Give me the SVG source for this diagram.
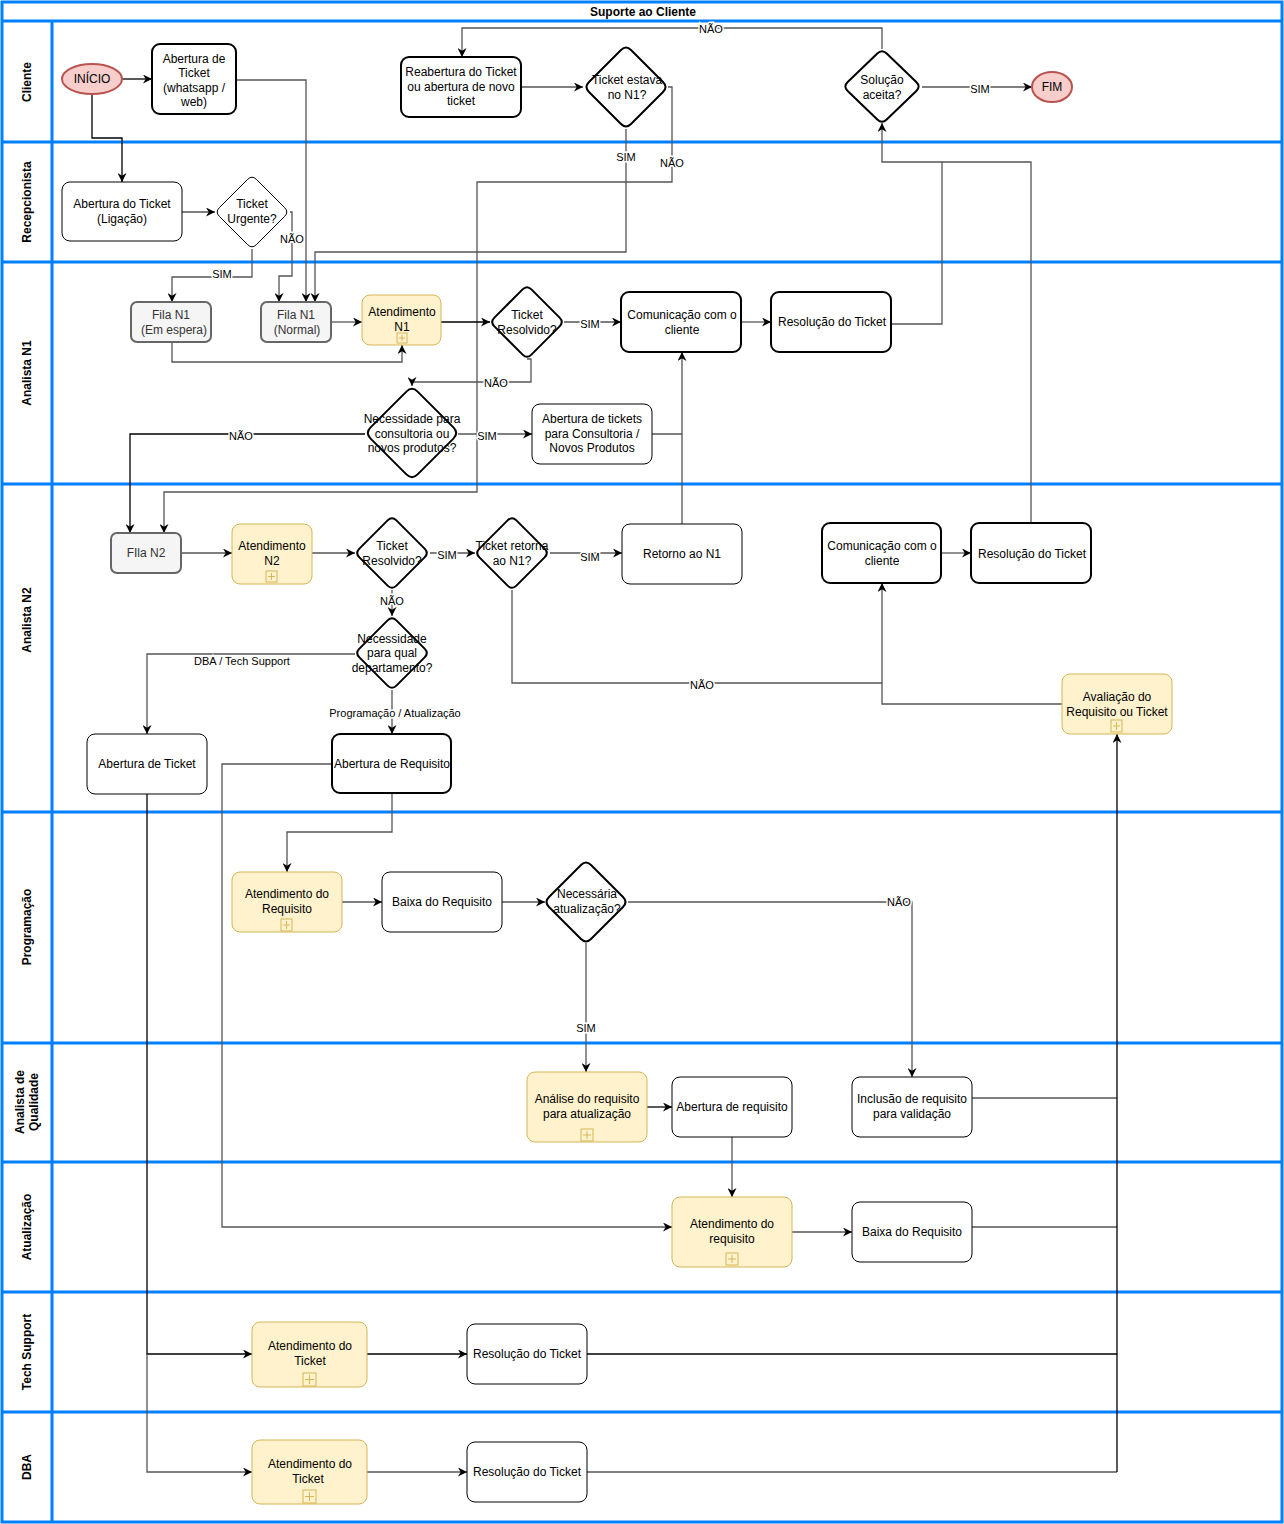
<svg xmlns="http://www.w3.org/2000/svg" width="1284" height="1524" viewBox="0 0 1284 1524">
<style>
.lane{fill:none;stroke:#007FFF;stroke-width:3}
.box{fill:#fff;stroke:#000;stroke-width:1}
.b2{stroke-width:2}
.sub{fill:#fff2cc;stroke:#d6b656;stroke-width:1}
.q{fill:#f5f5f5;stroke:#666;stroke-width:2}
.dia{fill:#fff;stroke:#000;stroke-width:2;stroke-linejoin:round}
.t{font-family:"Liberation Sans",Arial,sans-serif;font-size:12px;text-anchor:middle;fill:#000}
.g{fill:#333}
.h{font-family:"Liberation Sans",Arial,sans-serif;font-size:12px;font-weight:bold;text-anchor:middle}
.el{font-family:"Liberation Sans",Arial,sans-serif;font-size:11px;text-anchor:middle;fill:#000;stroke:#fff;stroke-width:3;paint-order:stroke}
.c{fill:none;stroke:#555;stroke-width:1.3}
.k{fill:none;stroke:#000;stroke-width:1.3}
.pl{fill:none;stroke:#d6b656;stroke-width:1}
</style>
<defs>
<marker id="a" viewBox="0 0 10 10" markerWidth="9" markerHeight="9" refX="10" refY="5" orient="auto" markerUnits="userSpaceOnUse">
<path d="M0,0 L10,5 L0,10 L3,5 z" fill="#000"/>
</marker>
</defs>
<rect width="1284" height="1524" fill="#fff"/>
<g id="pool">
<rect class="lane" x="2" y="2" width="1280" height="1520"/>
<line class="lane" x1="2" y1="21" x2="1282" y2="21"/>
<line class="lane" x1="2" y1="142" x2="1282" y2="142"/>
<line class="lane" x1="2" y1="262" x2="1282" y2="262"/>
<line class="lane" x1="2" y1="484" x2="1282" y2="484"/>
<line class="lane" x1="2" y1="812" x2="1282" y2="812"/>
<line class="lane" x1="2" y1="1043" x2="1282" y2="1043"/>
<line class="lane" x1="2" y1="1162" x2="1282" y2="1162"/>
<line class="lane" x1="2" y1="1292" x2="1282" y2="1292"/>
<line class="lane" x1="2" y1="1412" x2="1282" y2="1412"/>
<line class="lane" x1="52" y1="21" x2="52" y2="1522"/>
<text class="h" x="643" y="16">Suporte ao Cliente</text>
<text class="h" transform="translate(31,82) rotate(-90)">Cliente</text>
<text class="h" transform="translate(31,202) rotate(-90)">Recepcionista</text>
<text class="h" transform="translate(31,373) rotate(-90)">Analista N1</text>
<text class="h" transform="translate(31,620) rotate(-90)">Analista N2</text>
<text class="h" transform="translate(31,927) rotate(-90)">Programação</text>
<text class="h" transform="translate(24,1102) rotate(-90)">Analista de</text>
<text class="h" transform="translate(38,1102) rotate(-90)">Qualidade</text>
<text class="h" transform="translate(31,1227) rotate(-90)">Atualização</text>
<text class="h" transform="translate(31,1352) rotate(-90)">Tech Support</text>
<text class="h" transform="translate(31,1467) rotate(-90)">DBA</text>
</g>
<g id="connectors">
<path class="k" d="M122,79 H152" marker-end="url(#a)"/>
<path class="k" d="M92,94 V138 H122 V182" marker-end="url(#a)"/>
<path class="c" d="M236,80 H306 V302" marker-end="url(#a)"/>
<path class="c" d="M521,87 H583" marker-end="url(#a)"/>
<path class="c" d="M626,129 V252 H315 V302" marker-end="url(#a)"/>
<path class="c" d="M668,87 H672 V182 H477 V492 H164 V533" marker-end="url(#a)"/>
<path class="c" d="M882,49 V28 H462 V57" marker-end="url(#a)"/>
<path class="c" d="M922,87 H1032" marker-end="url(#a)"/>
<path class="c" d="M182,212 H215" marker-end="url(#a)"/>
<path class="c" d="M290,212 H292 V276 H279 V302" marker-end="url(#a)"/>
<path class="c" d="M252,249 V277 H172 V302" marker-end="url(#a)"/>
<path class="c" d="M331,322 H362" marker-end="url(#a)"/>
<path class="c" d="M172,342 V362 H402 V345" marker-end="url(#a)"/>
<path class="k" d="M441,322 H490" marker-end="url(#a)"/>
<path class="c" d="M564,322 H621" marker-end="url(#a)"/>
<path class="c" d="M527,359 H531 V382 H412 V386" marker-end="url(#a)"/>
<path class="c" d="M741,322 H771" marker-end="url(#a)"/>
<path class="c" d="M891,324 H942 V162 H882 V123" marker-end="url(#a)"/>
<path class="c" d="M1031,523 V162 H942"/>
<path class="c" d="M458,434 H532" marker-end="url(#a)"/>
<path class="k" d="M365,434 H130 V533" marker-end="url(#a)"/>
<path class="c" d="M652,434 H682 V352" marker-end="url(#a)"/>
<path class="c" d="M682,524 V434"/>
<path class="c" d="M181,553 H232" marker-end="url(#a)"/>
<path class="c" d="M312,553 H355" marker-end="url(#a)"/>
<path class="c" d="M430,553 H475" marker-end="url(#a)"/>
<path class="c" d="M550,553 H622" marker-end="url(#a)"/>
<path class="c" d="M512,590 V683 H882 V583" marker-end="url(#a)"/>
<path class="c" d="M1062,704 H882 V683"/>
<path class="c" d="M941,553 H971" marker-end="url(#a)"/>
<path class="c" d="M392,590 V616" marker-end="url(#a)"/>
<path class="c" d="M355,654 H147 V734" marker-end="url(#a)"/>
<path class="c" d="M392,690 V734" marker-end="url(#a)"/>
<path class="c" d="M392,793 V832 H287 V872" marker-end="url(#a)"/>
<path class="c" d="M332,764 H222 V1227 H672" marker-end="url(#a)"/>
<path class="k" d="M147,794 V1354 H252" marker-end="url(#a)"/>
<path class="c" d="M147,1354 V1472 H252" marker-end="url(#a)"/>
<path class="c" d="M342,902 H382" marker-end="url(#a)"/>
<path class="c" d="M502,902 H545" marker-end="url(#a)"/>
<path class="c" d="M586,943 V1072" marker-end="url(#a)"/>
<path class="c" d="M628,902 H912 V1077" marker-end="url(#a)"/>
<path class="k" d="M647,1107 H672" marker-end="url(#a)"/>
<path class="c" d="M732,1137 V1197" marker-end="url(#a)"/>
<path class="c" d="M792,1232 H852" marker-end="url(#a)"/>
<path class="c" d="M972,1098 H1117"/>
<path class="c" d="M972,1227 H1117"/>
<path class="k" d="M367,1354 H467" marker-end="url(#a)"/>
<path class="k" d="M587,1354 H1117"/>
<path class="c" d="M367,1472 H467" marker-end="url(#a)"/>
<path class="c" d="M587,1472 H1117"/>
<path class="k" d="M1117,1472 V734" marker-end="url(#a)"/>
<text class="el" x="711" y="33">NÃO</text>
<text class="el" x="980" y="93">SIM</text>
<text class="el" x="626" y="161">SIM</text>
<text class="el" x="672" y="167">NÃO</text>
<text class="el" x="292" y="243">NÃO</text>
<text class="el" x="222" y="278">SIM</text>
<text class="el" x="590" y="328">SIM</text>
<text class="el" x="496" y="387">NÃO</text>
<text class="el" x="487" y="440">SIM</text>
<text class="el" x="241" y="440">NÃO</text>
<text class="el" x="447" y="559">SIM</text>
<text class="el" x="590" y="561">SIM</text>
<text class="el" x="392" y="605">NÃO</text>
<text class="el" x="242" y="665">DBA / Tech Support</text>
<text class="el" x="395" y="717">Programação / Atualização</text>
<text class="el" x="702" y="689">NÃO</text>
<text class="el" x="899" y="906">NÃO</text>
<text class="el" x="586" y="1032">SIM</text>
</g>
<g id="inicio"><ellipse cx="92" cy="79" rx="30" ry="15" fill="#f8cecc" stroke="#b85450" stroke-width="2"/><text class="t" x="92" y="83">INÍCIO</text></g>
<g id="abertura-web"><rect class="box b2" x="152" y="44" width="84" height="70" rx="8"/><text class="t" x="194" y="63">Abertura de</text><text class="t" x="194" y="77">Ticket</text><text class="t" x="194" y="92">(whatsapp /</text><text class="t" x="194" y="106">web)</text></g>
<g id="reabertura"><rect class="box b2" x="401" y="57" width="120" height="60" rx="8"/><text class="t" x="461" y="76">Reabertura do Ticket</text><text class="t" x="461" y="91">ou abertura de novo</text><text class="t" x="461" y="105">ticket</text></g>
<g id="estava-n1"><path class="dia" d="M631,50 L663,82 Q668,87 663,92 L631,124 Q626,129 621,124 L589,92 Q584,87 589,82 L621,50 Q626,45 631,50 Z"/><text class="t" x="627" y="84">Ticket estava</text><text class="t" x="627" y="99">no N1?</text></g>
<g id="solucao"><path class="dia" d="M886.7,53.5 L916.3,82 Q921,86.5 916.3,91 L886.7,119.5 Q882,124 877.3,119.5 L847.7,91 Q843,86.5 847.7,82 L877.3,53.5 Q882,49 886.7,53.5 Z"/><text class="t" x="882" y="84">Solução</text><text class="t" x="882" y="99">aceita?</text></g>
<g id="fim"><ellipse cx="1052" cy="87" rx="20" ry="15" fill="#f8cecc" stroke="#b85450" stroke-width="2"/><text class="t" x="1052" y="91">FIM</text></g>
<g id="abertura-ligacao"><rect class="box" x="62" y="182" width="120" height="59" rx="8"/><text class="t" x="122" y="208">Abertura do Ticket</text><text class="t" x="122" y="223">(Ligação)</text></g>
<g id="urgente"><path class="dia" stroke-width="1" d="M256.4,179.4 L284.6,207.6 Q289,212 284.6,216.4 L256.4,244.6 Q252,249 247.6,244.6 L219.4,216.4 Q215,212 219.4,207.6 L247.6,179.4 Q252,175 256.4,179.4 Z" style="stroke-width:1"/><text class="t" x="252" y="208">Ticket</text><text class="t" x="252" y="223">Urgente?</text></g>
<g id="fila-espera"><rect class="q" x="131" y="302" width="80" height="40" rx="6"/><text class="t g" x="171" y="319">Fila N1</text><text class="t g" x="174" y="334">(Em espera)</text></g>
<g id="fila-normal"><rect class="q" x="261" y="302" width="70" height="40" rx="6"/><text class="t g" x="296" y="319">Fila N1</text><text class="t g" x="297" y="334">(Normal)</text></g>
<g id="atend-n1"><rect class="sub" x="362" y="295" width="79" height="50" rx="8"/><rect class="pl" x="397" y="333" width="10" height="10"/><path class="pl" d="M402,335 V341 M399,338 H405"/><text class="t" x="402" y="316">Atendimento</text><text class="t" x="402" y="331">N1</text></g>
<g id="resolvido-n1"><path class="dia" d="M531.4,289.4 L559.6,317.6 Q564,322 559.6,326.4 L531.4,354.6 Q527,359 522.6,354.6 L494.4,326.4 Q490,322 494.4,317.6 L522.6,289.4 Q527,285 531.4,289.4 Z"/><text class="t" x="527" y="319">Ticket</text><text class="t" x="527" y="334">Resolvido?</text></g>
<g id="comunicacao-n1"><rect class="box b2" x="621" y="292" width="120" height="60" rx="8"/><text class="t" x="682" y="319">Comunicação com o</text><text class="t" x="682" y="334">cliente</text></g>
<g id="resolucao-n1"><rect class="box b2" x="771" y="292" width="120" height="60" rx="8"/><text class="t" x="832" y="326">Resolução do Ticket</text></g>
<g id="consultoria"><path class="dia" d="M417.6,391.6 L453.4,427.4 Q459,433 453.4,438.6 L417.6,474.4 Q412,480 406.4,474.4 L370.6,438.6 Q365,433 370.6,427.4 L406.4,391.6 Q412,386 417.6,391.6 Z"/><text class="t" x="412" y="423">Necessidade para</text><text class="t" x="412" y="438">consultoria ou</text><text class="t" x="412" y="452">novos produtos?</text></g>
<g id="abertura-consultoria"><rect class="box" x="532" y="404" width="120" height="60" rx="8"/><text class="t" x="592" y="423">Abertura de tickets</text><text class="t" x="592" y="438">para Consultoria /</text><text class="t" x="592" y="452">Novos Produtos</text></g>
<g id="fila-n2"><rect class="q" x="111" y="533" width="70" height="40" rx="6"/><text class="t g" x="146" y="557">FIla N2</text></g>
<g id="atend-n2"><rect class="sub" x="232" y="524" width="80" height="60" rx="8"/><rect class="pl" x="266" y="571" width="11" height="11"/><path class="pl" d="M271.5,573 V580 M268,576.5 H275"/><text class="t" x="272" y="550">Atendimento</text><text class="t" x="272" y="565">N2</text></g>
<g id="resolvido-n2"><path class="dia" d="M396.4,520.4 L424.6,548.6 Q429,553 424.6,557.4 L396.4,585.6 Q392,590 387.6,585.6 L359.4,557.4 Q355,553 359.4,548.6 L387.6,520.4 Q392,516 396.4,520.4 Z"/><text class="t" x="392" y="550">Ticket</text><text class="t" x="392" y="565">Resolvido?</text></g>
<g id="retorna"><path class="dia" d="M516.4,520.4 L544.6,548.6 Q549,553 544.6,557.4 L516.4,585.6 Q512,590 507.6,585.6 L479.4,557.4 Q475,553 479.4,548.6 L507.6,520.4 Q512,516 516.4,520.4 Z"/><text class="t" x="512" y="550">Ticket retorna</text><text class="t" x="512" y="565">ao N1?</text></g>
<g id="retorno-n1"><rect class="box" x="622" y="524" width="120" height="60" rx="8"/><text class="t" x="682" y="558">Retorno ao N1</text></g>
<g id="comunicacao-n2"><rect class="box b2" x="822" y="523" width="119" height="60" rx="8"/><text class="t" x="882" y="550">Comunicação com o</text><text class="t" x="882" y="565">cliente</text></g>
<g id="resolucao-n2"><rect class="box b2" x="971" y="523" width="120" height="60" rx="8"/><text class="t" x="1032" y="558">Resolução do Ticket</text></g>
<g id="departamento"><path class="dia" d="M396.4,620.4 L424.6,648.6 Q429,653 424.6,657.4 L396.4,685.6 Q392,690 387.6,685.6 L359.4,657.4 Q355,653 359.4,648.6 L387.6,620.4 Q392,616 396.4,620.4 Z"/><text class="t" x="392" y="643">Necessidade</text><text class="t" x="392" y="657">para qual</text><text class="t" x="392" y="672">departamento?</text></g>
<g id="abertura-ticket"><rect class="box" x="87" y="734" width="120" height="60" rx="8"/><text class="t" x="147" y="768">Abertura de Ticket</text></g>
<g id="abertura-requisito"><rect class="box b2" x="332" y="734" width="119" height="59" rx="8"/><text class="t" x="392" y="768">Abertura de Requisito</text></g>
<g id="avaliacao"><rect class="sub" x="1062" y="674" width="110" height="60" rx="8"/><rect class="pl" x="1111" y="720" width="11" height="12"/><path class="pl" d="M1116.5,722 V730 M1113,726 H1120"/><text class="t" x="1117" y="701">Avaliação do</text><text class="t" x="1117" y="716">Requisito ou Ticket</text></g>
<g id="atend-requisito"><rect class="sub" x="232" y="872" width="110" height="60" rx="8"/><rect class="pl" x="281" y="919" width="11" height="12"/><path class="pl" d="M286.5,921 V929 M283,925 H290"/><text class="t" x="287" y="898">Atendimento do</text><text class="t" x="287" y="913">Requisito</text></g>
<g id="baixa-prog"><rect class="box" x="382" y="872" width="120" height="60" rx="8"/><text class="t" x="442" y="906">Baixa do Requisito</text></g>
<g id="necessaria"><path class="dia" d="M591,865 L623,897 Q628,902 623,907 L591,939 Q586,944 581,939 L549,907 Q544,902 549,897 L581,865 Q586,860 591,865 Z"/><text class="t" x="587" y="898">Necessária</text><text class="t" x="587" y="913">atualização?</text></g>
<g id="analise"><rect class="sub" x="527" y="1072" width="120" height="70" rx="8"/><rect class="pl" x="581" y="1129" width="12" height="12"/><path class="pl" d="M587,1131 V1139 M583,1135 H591"/><text class="t" x="587" y="1103">Análise do requisito</text><text class="t" x="587" y="1118">para atualização</text></g>
<g id="abertura-req-q"><rect class="box" x="672" y="1077" width="120" height="60" rx="8"/><text class="t" x="732" y="1111">Abertura de requisito</text></g>
<g id="inclusao"><rect class="box" x="852" y="1077" width="120" height="60" rx="8"/><text class="t" x="912" y="1103">Inclusão de requisito</text><text class="t" x="912" y="1118">para validação</text></g>
<g id="atend-req-atual"><rect class="sub" x="672" y="1197" width="120" height="70" rx="8"/><rect class="pl" x="726" y="1253" width="12" height="12"/><path class="pl" d="M732,1255 V1263 M728,1259 H736"/><text class="t" x="732" y="1228">Atendimento do</text><text class="t" x="732" y="1243">requisito</text></g>
<g id="baixa-atual"><rect class="box" x="852" y="1202" width="120" height="60" rx="8"/><text class="t" x="912" y="1236">Baixa do Requisito</text></g>
<g id="atend-tech"><rect class="sub" x="252" y="1322" width="115" height="65" rx="8"/><rect class="pl" x="303" y="1373" width="13" height="13"/><path class="pl" d="M309.5,1375 V1384 M305,1379.5 H314"/><text class="t" x="310" y="1350">Atendimento do</text><text class="t" x="310" y="1365">Ticket</text></g>
<g id="resolucao-tech"><rect class="box" x="467" y="1324" width="120" height="60" rx="8"/><text class="t" x="527" y="1358">Resolução do Ticket</text></g>
<g id="atend-dba"><rect class="sub" x="252" y="1440" width="115" height="64" rx="8"/><rect class="pl" x="303" y="1490" width="13" height="13"/><path class="pl" d="M309.5,1492 V1501 M305,1496.5 H314"/><text class="t" x="310" y="1468">Atendimento do</text><text class="t" x="308" y="1483">Ticket</text></g>
<g id="resolucao-dba"><rect class="box" x="467" y="1442" width="120" height="60" rx="8"/><text class="t" x="527" y="1476">Resolução do Ticket</text></g>
</svg>
